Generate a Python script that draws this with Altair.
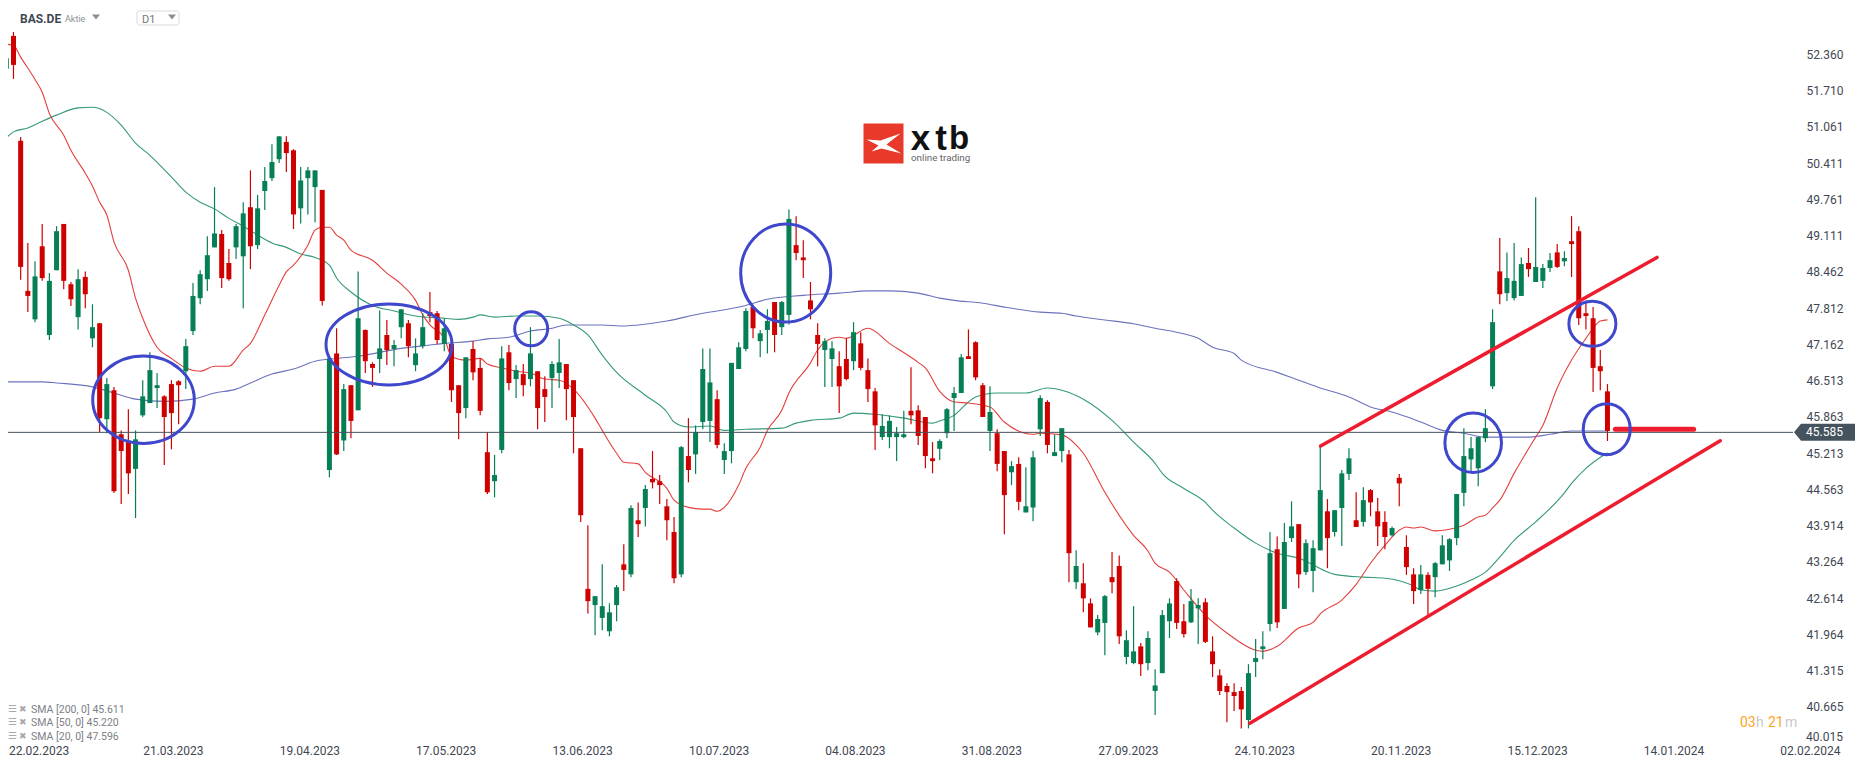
import altair as alt
import pandas as pd

# candles, one value per trading day, oldest first
highs = [
    52.42,52.76,50.88,48.98,48.65,49.32,48.44,49.28,49.32,48.28,
    48.51,48.47,47.88,47.54,46.56,46.40,45.62,46.00,45.62,46.52,
    47.02,46.65,46.25,46.52,46.52,47.26,48.26,48.49,49.10,49.98,
    49.21,48.87,49.32,49.71,50.28,49.84,50.34,50.75,50.89,50.89,
    50.66,50.34,50.34,50.28,49.93,46.91,47.45,46.45,46.43,48.47,
    47.43,46.84,47.77,47.60,47.24,47.79,47.60,47.27,47.72,48.10,
    47.76,47.63,47.17,46.43,46.93,47.22,46.91,45.59,45.18,47.13,
    47.15,46.79,46.81,47.47,46.68,46.59,46.86,47.26,46.81,46.52,
    45.30,43.92,42.65,43.22,42.52,42.85,43.58,44.28,44.33,44.64,
    45.25,44.82,44.39,44.07,45.34,45.84,45.71,47.09,47.09,46.34,
    45.39,46.83,47.20,47.81,47.83,47.42,47.79,47.92,47.94,49.58,
    49.46,49.03,48.28,47.54,47.27,47.22,47.04,47.27,47.56,47.38,
    46.91,46.38,45.91,45.89,45.68,45.97,46.75,46.07,45.86,45.41,
    45.46,46.02,46.40,46.99,47.43,47.22,46.47,46.41,45.64,45.25,
    45.07,45.14,44.96,45.25,46.25,46.16,45.54,45.66,45.27,43.47,
    43.24,42.61,42.31,42.67,43.44,43.38,42.04,42.47,41.81,42.02,
    41.34,42.40,42.61,42.97,42.51,42.78,42.61,42.61,41.93,41.34,
    41.09,41.09,41.02,41.43,41.88,42.02,43.80,43.72,43.96,44.35,
    43.94,43.67,43.65,45.36,44.39,44.19,44.91,45.30,44.51,44.60,
    44.57,44.41,44.17,43.90,44.84,43.74,43.15,43.21,43.08,43.26,
    43.74,43.69,44.48,45.66,45.50,45.50,46.00,47.79,49.07,48.81,
    48.98,48.72,48.89,49.80,48.60,48.80,48.96,48.83,49.46,49.28,
    47.95,47.83,47.06,46.45,
]
body_tops = [
    52.29,52.69,50.81,48.12,48.38,48.92,48.30,49.19,49.32,48.24,
    48.33,48.37,47.47,47.54,46.45,46.34,45.55,45.41,45.46,46.23,
    46.70,46.43,46.23,46.45,46.50,47.13,48.03,48.42,48.76,49.15,
    49.14,48.62,49.28,49.51,49.62,49.60,50.09,50.43,50.89,50.79,
    50.64,50.10,50.28,50.28,49.93,46.91,47.00,46.36,46.43,47.63,
    47.42,46.81,47.09,47.33,47.15,47.79,47.54,47.00,47.47,47.74,
    47.72,47.45,47.17,46.43,46.93,47.08,46.74,45.23,44.82,46.91,
    47.02,46.70,46.63,47.00,46.68,46.36,46.81,46.84,46.81,46.52,
    45.30,42.78,42.65,42.47,42.36,42.81,43.22,44.23,44.01,44.57,
    44.75,44.71,44.26,43.80,45.32,45.16,45.59,46.72,46.48,46.18,
    45.25,46.83,47.11,47.76,47.83,47.36,47.58,47.92,47.92,49.41,
    48.94,48.72,47.95,47.33,47.22,47.09,46.77,46.90,47.38,47.18,
    46.70,46.32,45.70,45.79,45.57,45.55,45.97,45.98,45.86,45.12,
    45.43,46.00,46.29,46.93,46.95,47.20,46.43,45.95,45.57,45.25,
    44.98,45.02,44.26,45.14,46.20,46.13,45.23,45.66,45.19,43.19,
    42.88,42.52,42.24,42.65,42.99,43.19,41.86,41.66,41.75,41.90,
    41.05,42.31,42.52,42.92,42.20,42.56,42.49,42.54,41.66,41.23,
    41.04,40.93,40.95,41.27,41.54,41.75,43.42,43.49,43.62,43.90,
    43.94,43.60,43.51,44.55,44.17,44.19,44.85,45.12,44.01,44.37,
    44.55,44.17,43.98,43.87,44.77,43.53,43.04,43.04,43.03,43.24,
    43.56,43.67,44.48,45.16,45.30,45.50,45.66,47.56,48.47,48.35,
    48.30,48.60,48.62,48.55,48.53,48.67,48.81,48.71,49.01,49.19,
    47.72,47.63,46.77,46.32,
]
body_bottoms = [
    52.10,52.17,48.55,48.03,47.61,48.35,47.33,48.49,48.30,47.97,
    47.65,48.06,47.27,45.84,45.82,44.53,45.25,44.85,44.93,45.89,
    46.11,46.38,45.86,45.93,46.43,46.68,47.40,47.99,48.33,48.90,
    48.35,48.33,48.90,48.74,48.92,48.94,49.91,50.14,50.48,50.59,
    49.49,49.60,50.14,49.98,47.94,44.91,45.19,45.44,45.79,45.98,
    46.86,46.74,46.90,47.06,47.08,47.47,47.13,46.79,47.13,47.67,
    47.24,47.17,46.34,45.93,46.02,46.66,45.97,44.51,44.71,45.27,
    46.47,46.54,46.43,46.54,46.02,46.22,46.56,46.65,46.36,45.86,
    44.10,42.56,42.49,42.26,42.02,42.49,43.12,43.04,43.94,44.23,
    44.69,44.64,44.01,42.97,43.04,44.91,45.19,45.77,45.79,45.36,
    45.09,45.25,46.72,47.08,47.45,47.22,47.42,47.33,47.47,47.69,
    48.80,48.67,47.79,47.17,47.06,46.90,46.41,46.54,46.86,46.74,
    46.36,45.71,45.50,45.50,45.50,45.50,45.89,45.52,45.16,45.07,
    45.29,45.57,46.20,46.29,46.90,46.57,45.86,45.61,45.02,44.46,
    44.87,44.34,44.15,44.24,45.64,45.36,45.16,45.25,43.42,42.90,
    42.61,42.09,42.00,42.17,42.90,41.93,41.56,41.45,41.43,41.45,
    40.95,41.27,42.20,42.17,41.97,42.18,42.43,41.83,41.43,40.95,
    40.93,40.86,40.62,40.43,41.47,41.70,42.15,42.18,42.42,43.69,
    43.04,43.08,43.10,43.47,43.69,43.80,44.23,44.84,43.89,43.98,
    44.33,43.90,43.71,43.74,44.67,43.17,42.74,42.76,42.78,42.99,
    43.22,43.29,43.69,44.50,45.10,44.94,45.48,46.41,48.06,48.08,
    47.99,48.03,48.51,48.28,48.30,48.53,48.55,48.65,48.96,47.63,
    47.67,46.74,46.68,45.61,
]
lows = [
    51.40,51.92,48.32,47.74,47.56,48.30,47.24,48.49,48.15,47.85,
    47.43,47.81,47.11,45.59,45.57,44.50,44.30,44.48,44.05,45.86,
    46.11,46.02,45.00,45.28,45.73,46.36,47.33,47.88,48.12,48.90,
    48.17,48.30,48.69,47.81,48.51,48.87,49.57,50.09,50.41,50.25,
    49.23,49.33,49.49,49.35,47.86,44.78,45.18,45.25,45.48,45.98,
    46.65,46.40,46.65,46.79,46.77,47.27,46.93,46.68,47.09,47.56,
    47.17,47.04,46.13,45.46,45.84,46.52,45.89,44.48,44.42,45.21,
    46.34,46.20,46.23,46.41,45.64,45.77,46.02,46.38,45.80,45.21,
    43.98,42.34,41.95,42.04,41.93,42.20,42.74,42.99,43.71,43.90,
    44.58,44.30,43.65,42.88,42.99,44.69,44.84,45.64,45.41,45.30,
    44.84,45.03,46.72,47.04,47.27,46.93,47.00,47.02,47.33,47.52,
    48.67,48.35,47.61,46.77,46.40,46.40,45.93,46.52,46.70,46.70,
    46.13,45.27,45.45,45.30,45.07,45.48,45.73,45.36,44.94,44.85,
    45.09,45.48,45.61,46.29,46.90,46.52,45.86,45.25,44.89,43.76,
    44.64,44.19,44.15,43.99,45.52,45.21,45.16,45.05,42.90,42.78,
    42.36,42.09,41.95,41.59,42.70,41.79,41.43,41.43,41.22,41.32,
    40.52,41.27,41.90,42.06,41.91,42.17,41.79,41.81,41.20,40.88,
    40.39,40.59,40.28,40.28,41.20,41.52,42.02,42.08,42.42,43.62,
    42.79,43.03,42.72,43.47,43.15,43.72,43.55,44.73,43.89,43.90,
    44.08,43.55,43.49,43.72,44.26,43.03,42.51,42.69,42.29,42.63,
    43.22,43.10,43.56,44.26,44.85,44.62,45.41,46.36,47.88,47.94,
    47.95,48.03,48.37,48.28,48.17,48.46,48.53,48.56,48.37,47.51,
    47.43,46.31,46.34,45.43,
]
directions = (
    "GRRRGRGGRRGRGRGRRRGG"
    "GGRRRGGGGGRRGGRGGGGR"
    "RGGGRGRGRGRRGRGGRGGR"
    "RGRRGRRRGGRGRGRRGGRR"
    "RRGGGGRGRGRRRRGRGGGR"
    "GGGGRGGRGGRRRRGGRRGR"
    "RRGGGGRRRRGGGGRRRGRR"
    "GRGGGRGGRGRRGGRRGGRG"
    "GGGRRGGRRRRRRGGGGRGG"
    "RGGGRGGGRGRRRGRRRGRG"
    "GGGGGGGGRGGGRGGGRGRR"
    "RRRR"
)

sma20_idx = [0,1,2,4,5,6,8,9,11,12,13,14,15,17,18,19,21,23,25,27,29,31,33,34,36,38,39,40,42,43,44,45,46,47,48,51,53,55,57,58,59,61,62,64,
             66,67,69,71,73,75,77,79,82,83,85,86,88,89,92,93,95,97,98,99,100,102,103,105,106,108,109,112,113,115,116,117,120,123,127,128,130,
             132,134,137,139,143,144,147,149,150,153,157,159,160,162,164,167,170,174,175,177,180,182,183,186,188,190,192,194,195,
             196,197,199,201,203,205,206,207,208,210,213,214,216,218,220,221,222,223]
sma20 = [52.54,52.52,52.31,51.91,51.68,51.30,50.91,50.64,50.23,50.00,49.71,49.48,49.00,48.49,47.99,47.63,47.11,46.91,46.74,46.68,46.77,46.77,47.06,47.18,47.69,48.22,48.46,48.58,48.94,49.21,49.26,49.26,49.12,49.03,48.85,48.67,48.44,48.24,47.95,47.69,47.51,47.27,46.95,46.88,
         46.91,46.81,46.74,46.68,46.65,46.54,46.52,46.36,45.84,45.62,45.21,45.05,45.02,44.87,44.58,44.37,44.24,44.21,44.21,44.17,44.24,44.64,44.94,45.32,45.62,45.98,46.29,46.83,47.06,47.27,47.29,47.27,47.45,47.18,46.84,46.74,46.32,
         46.13,46.11,46.04,45.77,45.55,45.57,45.54,45.36,45.21,44.51,43.74,43.46,43.24,43.08,42.76,42.31,41.99,41.68,41.66,41.75,42.08,42.18,42.33,42.58,42.86,43.24,43.56,43.83,43.89,
         43.87,43.89,43.82,43.85,43.92,44.07,44.10,44.23,44.37,44.85,45.50,45.71,46.38,46.88,47.27,47.45,47.58,47.60]

sma50_idx = [0,1,3,5,7,10,12,14,16,18,20,23,25,27,29,31,33,35,37,39,41,43,45,46,48,51,54,57,61,63,65,
             66,68,71,74,77,79,81,83,85,89,92,93,95,98,100,103,108,110,112,116,118,121,125,129,130,
             132,134,135,138,142,145,147,150,154,157,160,161,164,167,168,171,174,177,180,185,189,192,196,
             197,199,202,204,206,208,210,213,217,218,220,223]
sma50 = [50.86,50.97,51.04,51.16,51.27,51.40,51.41,51.32,51.09,50.77,50.55,50.16,49.89,49.71,49.59,49.42,49.28,49.12,48.98,48.90,48.78,48.72,48.58,48.35,48.10,47.86,47.76,47.67,47.63,47.61,47.65,
         47.69,47.65,47.67,47.67,47.63,47.51,47.33,46.97,46.66,46.25,45.95,45.77,45.68,45.70,45.62,45.64,45.66,45.75,45.80,45.84,45.93,45.91,45.84,45.75,45.79,
         45.89,46.13,46.22,46.29,46.29,46.38,46.34,46.18,45.80,45.41,45.03,44.85,44.58,44.33,44.19,43.87,43.60,43.42,43.33,43.04,42.99,42.97,42.83,
         42.76,42.74,42.83,42.94,43.08,43.35,43.65,43.98,44.50,44.67,44.94,45.22]

sma200_idx = [0,5,7,12,15,18,22,26,29,32,34,37,40,43,46,49,55,59,61,65,67,70,73,76,78,83,86,88,92,97,99,103,106,111,116,120,123,127,130,
              132,136,139,144,147,149,153,157,160,163,166,168,171,172,177,180,183,187,190,193,194,197,200,203,206,212,215,218,223]
sma200 = [46.49,46.49,46.47,46.40,46.29,46.18,46.14,46.18,46.29,46.36,46.47,46.63,46.72,46.86,46.91,46.95,47.09,47.15,47.18,47.22,47.26,47.29,47.40,47.45,47.51,47.51,47.49,47.51,47.58,47.72,47.76,47.86,47.97,48.04,48.08,48.12,48.12,48.08,47.99,
          47.95,47.90,47.83,47.74,47.72,47.67,47.60,47.53,47.45,47.38,47.27,47.11,47.00,46.88,46.66,46.52,46.38,46.22,46.04,45.95,45.91,45.77,45.62,45.57,45.50,45.50,45.55,45.61,45.61]

# hand drawn annotations
trend_names = ["support", "support", "channel", "channel", "level", "level"]
trend_idx = [173.2, 238.7, 183.05, 229.9, 224.1, 235.0]
trend_price = [40.37, 45.435, 45.34, 48.72, 45.64, 45.64]
trend_widths = {"support": 3.5, "channel": 3.5, "level": 5}

ellipse_idx = [19.11, 53.3, 73.1, 108.55, 204.3, 220.9, 222.9]
ellipse_price = [46.17, 47.16, 47.44, 48.44, 45.40, 47.53, 45.64]
ellipse_rx = [50.8, 63, 16.5, 45, 28.3, 23.5, 23.5]
ellipse_ry = [43.7, 40.5, 17, 49, 29.8, 22.5, 25.5]

price_ticks = [52.360, 51.710, 51.061, 50.411, 49.761, 49.111, 48.462, 47.812, 47.162, 46.513,
               45.863, 45.213, 44.563, 43.914, 43.264, 42.614, 41.964, 41.315, 40.665]
date_labels = ["22.02.2023", "21.03.2023", "19.04.2023", "17.05.2023", "13.06.2023", "10.07.2023", "04.08.2023",
               "31.08.2023", "27.09.2023", "24.10.2023", "20.11.2023", "15.12.2023", "14.01.2024", "02.02.2024"]
last_price = 45.585
legend_rows = ["SMA [200, 0] 45.611", "SMA [50, 0] 45.220", "SMA [20, 0] 47.596"]

W, H = 1785, 736
TEXT = "#3f4852"
FONT = "Roboto"

x_scale = alt.Scale(domain=[0.2368, 248.84], nice=False, zero=False, padding=0)
y_scale = alt.Scale(domain=[40.0, 53.19], nice=False, zero=False, padding=0)
x_axis = alt.Axis(
    values=[0.3] + [19 * n for n in range(1, len(date_labels))],
    labelExpr=f"{date_labels}[round(datum.value / 19)]",
    labelAlign="left", labelFlush=False, labelOverlap=False, labelBound=False,
    labelFont=FONT, labelFontSize=12, labelColor=TEXT, labelPadding=1,
    domain=False, ticks=False, grid=False, title=None)
y_axis = alt.Axis(
    orient="right", values=price_ticks, format=".3f", labelOverlap=False,
    labelFont=FONT, labelFontSize=12, labelColor=TEXT, labelPadding=13,
    domain=False, ticks=False, grid=False, title=None)


def x_enc(field="i"):
    return alt.X(f"{field}:Q", scale=x_scale, axis=x_axis)


def y_enc(field="p"):
    return alt.Y(f"{field}:Q", scale=y_scale, axis=y_axis)


def px_x(x):
    return alt.value(x - 8)


def px_y(y):
    return alt.value(y - 8)


def ui_text(text, x, y, size, color, weight="normal", font=FONT, align="left"):
    return alt.Chart(pd.DataFrame({"t": [text]})).mark_text(
        font=font, fontSize=size, fontWeight=weight, color=color, align=align, baseline="middle"
    ).encode(x=px_x(x), y=px_y(y), text="t:N")


def ui_shape(path, x, y, color):
    # custom symbol paths are in pixels when size is 4
    return alt.Chart(pd.DataFrame({"t": [0]})).mark_point(
        shape=path, size=4, filled=True, fill=color, opacity=1
    ).encode(x=px_x(x), y=px_y(y))


def sma_line(idx, values, color):
    df = pd.DataFrame({"i": idx, "p": values})
    return alt.Chart(df).mark_line(color=color, strokeWidth=1.1, interpolate="monotone").encode(
        x=x_enc(), y=y_enc())


candles = pd.DataFrame({
    "i": range(len(highs)), "high": highs, "low": lows,
    "top": body_tops, "bottom": body_bottoms, "dir": list(directions),
})
dir_color = alt.Color("dir:N", scale=alt.Scale(domain=["G", "R"], range=["#067f55", "#cf0000"]), legend=None)

wicks = alt.Chart(candles).mark_rule(strokeWidth=1.2).encode(
    x=x_enc(), y=y_enc("high"), y2="low:Q", color=dir_color)
bodies = alt.Chart(candles).mark_bar(size=5).encode(
    x=x_enc(), y=y_enc("top"), y2="bottom:Q", color=dir_color)

price_line = alt.Chart(pd.DataFrame({"p": [last_price]})).mark_rule(color="#44535e", strokeWidth=1).encode(
    y=y_enc())

layers = [
    sma_line(sma200_idx, sma200, "#6b72bd"),
    sma_line(sma50_idx, sma50, "#35997a"),
    sma_line(sma20_idx, sma20, "#e2403f"),
    wicks,
    bodies,
    price_line,
]

trends = pd.DataFrame({"name": trend_names, "i": trend_idx, "p": trend_price})
for name, width in trend_widths.items():
    layers.append(alt.Chart(trends[trends["name"] == name]).mark_line(
        color="#ed1c2e", strokeWidth=width, strokeCap="round").encode(x=x_enc(), y=y_enc()))

for i, p, rx, ry in zip(ellipse_idx, ellipse_price, ellipse_rx, ellipse_ry):
    path = f"M{-rx},0A{rx},{ry} 0 1,1 {rx},0A{rx},{ry} 0 1,1 {-rx},0Z"
    layers.append(alt.Chart(pd.DataFrame({"i": [i], "p": [p]})).mark_point(
        shape=path, size=4, filled=False, stroke="#3f48cc", strokeWidth=3, opacity=1).encode(
            x=x_enc(), y=y_enc()))

# last price tag and the bottom tick that the platform nudges up
layers.append(alt.Chart(pd.DataFrame({"p": [last_price]})).mark_point(
    shape="M0,0L7,-8.5L61,-8.5L61,8.5L7,8.5Z", size=4, filled=True, fill="#44535e", opacity=1).encode(
        x=px_x(1794), y=y_enc()))
layers.append(alt.Chart(pd.DataFrame({"p": [last_price], "t": [f"{last_price:.3f}"]})).mark_text(
    font=FONT, fontSize=12, color="#ffffff", align="left", baseline="middle").encode(
        x=px_x(1806), y=y_enc(), text="t:N"))
layers.append(alt.Chart(pd.DataFrame({"p": [40.015], "t": ["40.015"]})).mark_text(
    font=FONT, fontSize=12, color=TEXT, align="left", baseline="middle", dy=-6).encode(
        x=px_x(1806), y=y_enc(), text="t:N"))

# header
layers.append(ui_text("BAS.DE", 20, 19, 12, TEXT, weight="bold"))
layers.append(ui_text("Aktie", 65, 19, 9, "#8a8f94"))
layers.append(ui_shape("M-4,-2.5L4,-2.5L0,2.5Z", 96, 17, "#8b8f94"))
layers.append(alt.Chart(pd.DataFrame({"t": [0]})).mark_rect(
    fill="#ffffff", stroke="#d8dbde", cornerRadius=2).encode(
        x=px_x(137), x2=px_x(179), y=px_y(11), y2=px_y(25)))
layers.append(ui_text("D1", 142, 20, 11, "#70767c"))
layers.append(ui_shape("M-4,-2.5L4,-2.5L0,2.5Z", 172, 17, "#8b8f94"))

# logo
layers.append(alt.Chart(pd.DataFrame({"t": [0]})).mark_rect(fill="#e8392a").encode(
    x=px_x(863.5), x2=px_x(903.5), y=px_y(123.5), y2=px_y(163.5)))
layers.append(ui_shape("M-17,-4L-3,-3L17,-10L3,1L18,10L-2,5L-12,8L-5,2Z", 883.5, 143.5, "#ffffff"))
for letter, x, size in zip("xtb", [920.5, 941, 959], [35, 35, 33]):
    layers.append(ui_text(letter, x, 138.5, size, "#111111", weight="bold", font="Liberation Sans", align="center"))
layers.append(ui_text("online trading", 911, 158, 9.8, "#666666"))

# indicator legend
for row, y in zip(legend_rows, [708.5, 722, 736]):
    layers.append(ui_text("\u2630", 8, y, 10, "#aaaaaa", font="DejaVu Sans"))
    layers.append(ui_text("\u2716", 19, y, 9, "#a8a8a8", font="DejaVu Sans"))
    layers.append(ui_text(row, 31, y + 1, 10.5, "#7c8186"))

# session countdown
for part, x, color in zip(["03", "h", "21", "m"], [1740, 1756, 1768, 1785], ["#ffa31a", "#c8c8c8", "#ffa31a", "#c8c8c8"]):
    layers.append(ui_text(part, x, 722.5, 14, color))

chart = alt.layer(*layers).properties(
    width=W, height=H,
    padding={"left": 0, "top": 0, "right": 65, "bottom": 14},
    autosize=alt.AutoSizeParams(type="none"),
    background="#ffffff",
).configure_view(stroke=None)

chart.save("out.html", embed_options={"renderer": "svg", "actions": False})
